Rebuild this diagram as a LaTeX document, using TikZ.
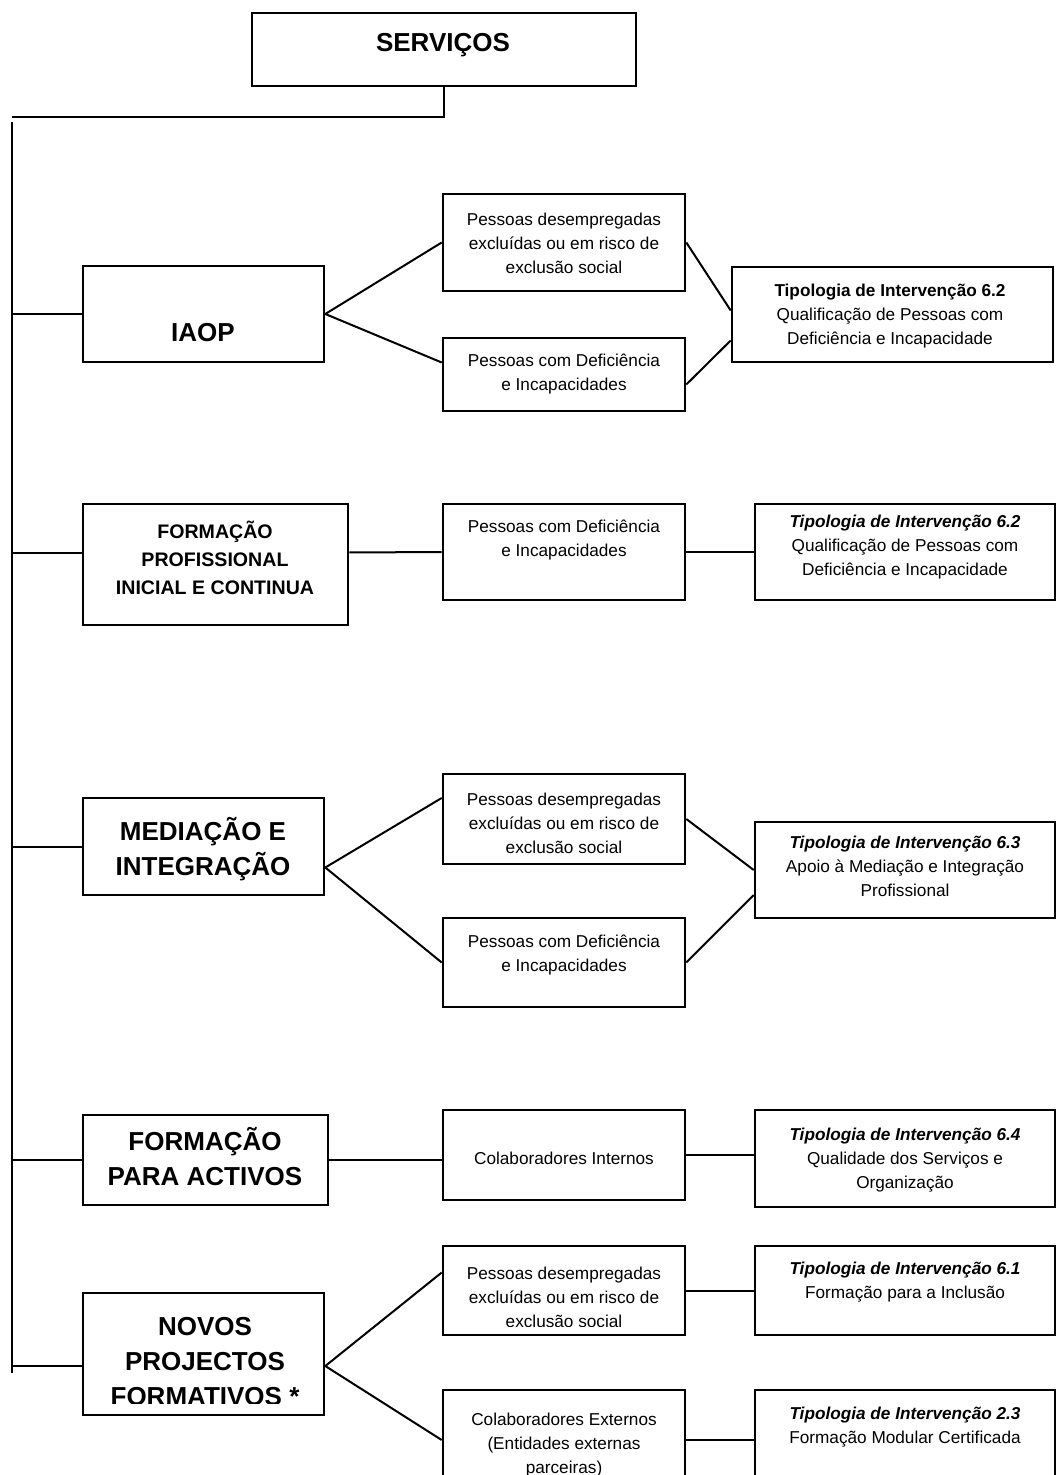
\documentclass[tikz,border=0pt]{standalone}
\usepackage{fontspec}
\setmainfont{Liberation Sans}
\usetikzlibrary{calc}
\tikzset{
	boxnode/.style={rectangle, draw, line width=1.3pt, inner sep=0pt},
	smalltxt/.style={align=center, font=\fontsize{8.6}{12}\selectfont},
	bigtxt/.style={align=center, font=\bfseries\fontsize{13}{17.5}\selectfont},
	midtxt/.style={align=center, font=\bfseries\fontsize{9.8}{14}\selectfont},
	link/.style={line width=1pt}
}

\begin{document}
\begin{tikzpicture}[x=0.5pt, y=-0.5pt]
		\useasboundingbox (0,0) rectangle (1059,1475);
		\clip (0,0) rectangle (1059,1475);
		
		%Boxes
		\node[boxnode, minimum width=192pt, minimum height=36.5pt] at (444,49.5) (serv) {};
		\node[boxnode, minimum width=120.5pt, minimum height=48pt] at (203.5,314) (iaop) {};
		\node[boxnode, minimum width=121pt, minimum height=48.5pt] at (564,242.5) (p1) {};
		\node[boxnode, minimum width=121pt, minimum height=36.5pt] at (564,374.5) (p2) {};
		\node[boxnode, minimum width=160.5pt, minimum height=47.5pt] at (892.5,314.5) (t1) {};
		\node[boxnode, minimum width=132.5pt, minimum height=60.5pt] at (215.5,564.5) (fp) {};
		\node[boxnode, minimum width=121pt, minimum height=48pt] at (564,552) (d2) {};
		\node[boxnode, minimum width=150pt, minimum height=48pt] at (905,552) (t2) {};
		\node[boxnode, minimum width=120.5pt, minimum height=48.5pt] at (203.5,846.5) (med) {};
		\node[boxnode, minimum width=121pt, minimum height=45pt] at (564,819) (p3) {};
		\node[boxnode, minimum width=121pt, minimum height=44.5pt] at (564,962.5) (p4) {};
		\node[boxnode, minimum width=150pt, minimum height=48pt] at (905,870) (t3) {};
		\node[boxnode, minimum width=122.5pt, minimum height=45pt] at (205.5,1160) (fa) {};
		\node[boxnode, minimum width=121pt, minimum height=45pt] at (564,1155) (ci) {};
		\node[boxnode, minimum width=150pt, minimum height=48.5pt] at (905,1158.5) (t4) {};
		\node[boxnode, minimum width=120.5pt, minimum height=61pt] at (203.5,1354) (nov) {};
		\node[boxnode, minimum width=121pt, minimum height=44.5pt] at (564,1290.5) (p5) {};
		\node[boxnode, minimum width=150pt, minimum height=44.5pt] at (905,1290.5) (t5) {};
		\node[boxnode, minimum width=121pt, minimum height=50pt] at (564,1440) (ce) {};
		\node[boxnode, minimum width=150pt, minimum height=50pt] at (905,1440) (t6) {};
		
		%Texts
		\node[bigtxt] at (443,45) (servt) {SERVIÇOS};
		\node[bigtxt] at (203,333) (iaopt) {IAOP};
		\node[smalltxt] at (564,243) (p1t) {Pessoas desempregadas\\excluídas ou em risco de\\exclusão social};
		\node[smalltxt] at (564,374) (p2t) {Pessoas com Deficiência\\e Incapacidades};
		\node[smalltxt] at (890,316) (t1t) {\textbf{Tipologia de Intervenção 6.2}\\Qualificação de Pessoas com\\Deficiência e Incapacidade};
		\node[midtxt] at (215,558) (fpt) {FORMAÇÃO\\PROFISSIONAL\\INICIAL E CONTINUA};
		\node[smalltxt] at (564,540) (d2t) {Pessoas com Deficiência\\e Incapacidades};
		\node[smalltxt] at (905,547) (t2t) {\textbf{\textit{Tipologia de Intervenção 6.2}}\\Qualificação de Pessoas com\\Deficiência e Incapacidade};
		\node[bigtxt] at (203,849) (medt) {MEDIAÇÃO E\\INTEGRAÇÃO};
		\node[smalltxt] at (564,823) (p3t) {Pessoas desempregadas\\excluídas ou em risco de\\exclusão social};
		\node[smalltxt] at (564,955) (p4t) {Pessoas com Deficiência\\e Incapacidades};
		\node[smalltxt] at (905,866) (t3t) {\textbf{\textit{Tipologia de Intervenção 6.3}}\\Apoio à Mediação e Integração\\Profissional};
		\node[bigtxt] at (205,1157) (fat) {FORMAÇÃO\\PARA ACTIVOS};
		\node[smalltxt] at (564,1158) (cit) {Colaboradores Internos};
		\node[smalltxt] at (905,1160) (t4t) {\textbf{\textit{Tipologia de Intervenção 6.4}}\\Qualidade dos Serviços e\\Organização};
		\begin{scope}
			\clip (83,1293) rectangle (324,1403);
			\node[bigtxt] at (205,1362) (novt) {NOVOS\\PROJECTOS\\FORMATIVOS *};
		\end{scope}
		\begin{scope}
			\clip (443,1246) rectangle (685,1326);
			\node[smalltxt] at (564,1297) (p5t) {Pessoas desempregadas\\excluídas ou em risco de\\exclusão social};
		\end{scope}
		\node[smalltxt] at (905,1282) (t5t) {\textbf{\textit{Tipologia de Intervenção 6.1}}\\Formação para a Inclusão};
		\node[smalltxt] at (564,1445) (cet) {Colaboradores Externos\\(Entidades externas\\parceiras)};
		\node[smalltxt] at (905,1427) (t6t) {\textbf{\textit{Tipologia de Intervenção 2.3}}\\Formação Modular Certificada};
		
		%Lines
		\coordinate (corner) at (12,117);
		\coordinate (trunktop) at (12,122);
		\coordinate (trunkend) at (12,1373);
		\draw[link] (serv.south) |- (corner);
		\draw[link] (trunktop) -- (trunkend);
		\draw[link] (iaop.west) -- (iaop.west -| trunktop);
		\draw[link] ($(fp.west)+(0,-12)$) -- ($(fp.west -| trunktop)+(0,-12)$);
		\draw[link] (med.west) -- (med.west -| trunktop);
		\draw[link] (fa.west) -- (fa.west -| trunktop);
		\draw[link] ($(nov.west)+(0,12)$) -- ($(nov.west -| trunktop)+(0,12)$);
		
		\draw[link] (iaop.east) -- (p1.west);
		\draw[link] (iaop.east) -- ($(p2.west)+(0,-12)$);
		\draw[link] (p1.east) -- ($(t1.west)+(0,-4)$);
		\draw[link] ($(p2.east)+(0,10)$) -- ($(t1.west)+(0,26)$);
		
		\draw[link] ($(fp.east)+(0,-12)$) -- (d2.west);
		\draw[link] (d2.east) -- (t2.west);
		
		\draw[link] ($(med.east)+(0,21)$) -- ($(p3.west)+(0,-21)$);
		\draw[link] ($(med.east)+(0,21)$) -- (p4.west);
		\draw[link] (p3.east) -- (t3.west);
		\draw[link] (p4.east) -- ($(t3.west)+(0,25)$);
		
		\draw[link] (fa.east) -- (fa.east -| ci.west);
		\draw[link] (ci.east) -- (ci.east -| t4.west);
		
		\draw[link] ($(nov.east)+(0,12)$) -- ($(p5.west)+(0,-18)$);
		\draw[link] ($(nov.east)+(0,12)$) -- (ce.west);
		\draw[link] (p5.east) -- (t5.west);
		\draw[link] (ce.east) -- (t6.west);
	\end{tikzpicture}
\end{document}
